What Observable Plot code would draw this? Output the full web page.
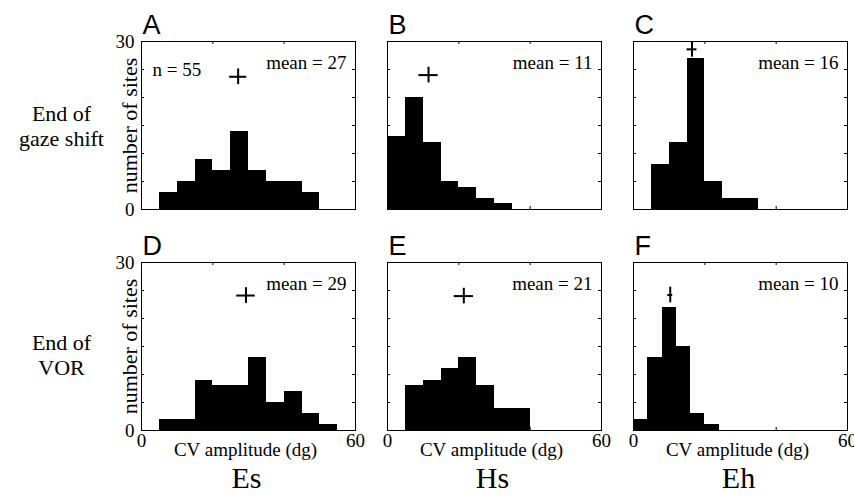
<!DOCTYPE html>
<html><head><meta charset="utf-8">
<script src="https://cdn.jsdelivr.net/npm/d3@7"></script>
<script src="https://cdn.jsdelivr.net/npm/@observablehq/plot@0.6"></script>
<style>
html,body{margin:0;padding:0;background:#fff;}
#chart{width:854px;height:497px;overflow:hidden;}
#chart svg{font-family:"Liberation Serif","Times New Roman",serif !important;}
</style></head><body><div id="chart"></div>
<script>
// ---- data ----
const columns = ["Es", "Hs", "Eh"];
const rows = ["End of\ngaze shift", "End of\nVOR"];
const panelLetters = ["A", "B", "C", "D", "E", "F"];
const binStart = [5, 0, 5, 5, 5, 0];
const binWidth = [5, 5, 5, 5, 5, 4];
const countsA = [3, 5, 9, 7, 14, 7, 5, 5, 3];
const countsB = [13, 20, 12, 5, 4, 2, 1];
const countsC = [8, 12, 27, 5, 2, 2];
const countsD = [2, 2, 9, 8, 8, 13, 5, 7, 3, 1];
const countsE = [8, 9, 11, 13, 8, 4, 4];
const countsF = [2, 13, 22, 15, 3, 1];
const meanValues = [27, 11, 16, 29, 21, 10];
const meanX = [27.1, 11.5, 16.4, 29.3, 21.4, 10.3];
const meanY = [23.7, 24, 28.6, 24.1, 24, 24.2];
const meanErr = [2.4, 2.7, 1.4, 2.6, 2.7, 0.7];
const nLabel = "n = 55";
const yAxisTitle = "number of sites";
const xAxisTitle = "CV amplitude (dg)";
const xInnerTicks = [20, 40];
const yInnerTicks = [5, 10, 15, 20, 25];
const xLabelTicks = [0, 60];
const yLabelTicks = [0, 30];

// ---- tables ----
const counts = [countsA, countsB, countsC, countsD, countsE, countsF];
const panels = panelLetters.map((letter, i) => ({
  letter, col: columns[i % 3], row: rows[Math.floor(i / 3)],
  mean: meanValues[i], mx: meanX[i], my: meanY[i], err: meanErr[i]
}));
const bars = [];
counts.forEach((arr, p) => arr.forEach((c, k) => bars.push({
  col: panels[p].col, row: panels[p].row,
  x1: binStart[p] + k * binWidth[p], x2: binStart[p] + (k + 1) * binWidth[p], count: c
})));

const serif = "Liberation Serif";
const sans = "Liberation Sans";
const armY = 1.4;

const chart = Plot.plot({
  width: 854, height: 497,
  marginLeft: 140, marginRight: 7, marginTop: 41, marginBottom: 66,
  style: {background: "white", color: "black", overflow: "visible"},
  fx: {domain: columns, paddingInner: 0.132, paddingOuter: 0, axis: null},
  fy: {domain: rows, paddingInner: 0.239, paddingOuter: 0, axis: null},
  x: {domain: [0, 60]},
  y: {domain: [0, 30]},
  marks: [
    Plot.rect(bars, {fx: "col", fy: "row", x1: "x1", x2: "x2", y1: 0, y2: "count", fill: "black", shapeRendering: "crispEdges"}),
    Plot.frame({stroke: "black", strokeWidth: 1}),
    Plot.ruleY(yInnerTicks, {y: d => d, insetRight: 211, stroke: "black"}),
    Plot.ruleY(yInnerTicks, {y: d => d, insetLeft: 211, stroke: "black"}),
    Plot.ruleX(xInnerTicks, {x: d => d, insetBottom: 165, stroke: "black"}),
    Plot.ruleX(xInnerTicks, {x: d => d, insetTop: 165, stroke: "black"}),
    // mean markers
    Plot.ruleY(panels, {fx: "col", fy: "row", y: "my", x1: d => d.mx - d.err, x2: d => d.mx + d.err, stroke: "black", strokeWidth: 2}),
    Plot.ruleX(panels, {fx: "col", fy: "row", x: "mx", y1: d => d.my - armY, y2: d => d.my + armY, stroke: "black", strokeWidth: 2}),
    // axes tick labels
    Plot.axisY(yLabelTicks, {tickSize: 0, tickPadding: 7, fontSize: 19, label: null, fontFamily: serif}),
    Plot.axisX(xLabelTicks, {tickSize: 0, tickPadding: 3, fontSize: 19, label: null, fontFamily: serif}),
    // panel letters
    Plot.text(panels, {fx: "col", fy: "row", text: "letter", frameAnchor: "top-left", textAnchor: "start", lineAnchor: "bottom", dx: 1, dy: -8, fontSize: 27, fontFamily: sans, fill: "black"}),
    // mean labels
    Plot.text(panels, {fx: "col", fy: "row", text: d => `mean = ${d.mean}`, frameAnchor: "top-right", textAnchor: "end", lineAnchor: "middle", dx: -9, dy: 21, fontSize: 19, fontFamily: serif, fill: "black"}),
    // n label
    Plot.text([panels[0]], {fx: "col", fy: "row", text: () => nLabel, frameAnchor: "top-left", textAnchor: "start", lineAnchor: "middle", dx: 11, dy: 28, fontSize: 19, fontFamily: serif, fill: "black"}),
    // y axis title
    Plot.text(rows, {fx: () => columns[0], fy: d => d, text: () => yAxisTitle, frameAnchor: "left", rotate: -90, textAnchor: "middle", lineAnchor: "middle", dx: -12, fontSize: 22, fontFamily: serif, fill: "black"}),
    // x axis title
    Plot.text(columns, {fx: d => d, fy: () => rows[1], text: () => xAxisTitle, frameAnchor: "bottom", textAnchor: "middle", lineAnchor: "top", dx: -3, dy: 12, fontSize: 19, fontFamily: serif, fill: "black"}),
    // column labels
    Plot.text(columns, {fx: d => d, fy: () => rows[1], text: d => d, frameAnchor: "bottom", textAnchor: "middle", lineAnchor: "bottom", dx: -2, dy: 57, fontSize: 30, fontFamily: serif, fill: "black"}),
    // row labels
    Plot.text([rows[0]], {fx: () => columns[0], fy: d => d, text: d => d, frameAnchor: "left", textAnchor: "middle", lineAnchor: "middle", lineHeight: 1.14, dx: -80, fontSize: 22, fontFamily: serif, fill: "black"}),
    Plot.text([rows[1]], {fx: () => columns[0], fy: d => d, text: d => d, frameAnchor: "left", textAnchor: "middle", lineAnchor: "middle", lineHeight: 1.14, dx: -80, dy: 8, fontSize: 22, fontFamily: serif, fill: "black"})
  ]
});
document.getElementById("chart").appendChild(chart);
</script>
</body></html>
